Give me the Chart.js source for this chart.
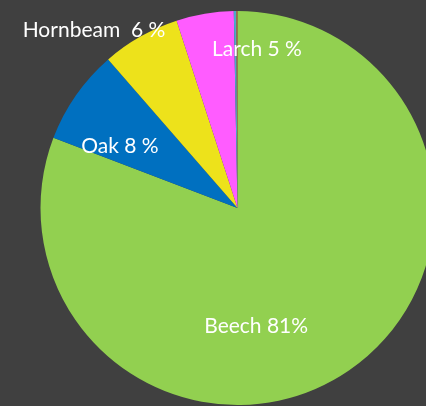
<!DOCTYPE html>
<html>
  <head>
    <title>Tree species share</title>
    <script src="https://cdn.jsdelivr.net/npm/chart.js"></script>
    <style>
      html, body {
        margin: 0;
        padding: 0;
        background: #404040;
        overflow: hidden;
      }
      .chart-box {
        position: relative;
        width: 460px;
        height: 406px;
      }
    </style>
  </head>
  <body>
    <div class="chart-box">
      <canvas id="pieChart"></canvas>
    </div>

    <script>
      // Species and their share of the stand (percent)
      const species = ['Beech', 'Oak', 'Hornbeam', 'Larch', 'Other A', 'Other B'];
      const shares = [80.8, 7.8, 6.4, 4.7, 0.2, 0.1];
      const labelTexts = ['Beech 81%', 'Oak 8 %', 'Hornbeam  6 %', 'Larch 5 %', '', ''];
      const sliceColors = ['#92d050', '#0070c0', '#ede21b', '#ff5cff', '#4bacc6', '#c0704d'];

      // Where each label sits: angle (deg, clockwise from top) and radius as fraction of the pie
      const labelSpots = [
        { angle: 171, r: 0.606 },
        { angle: 297.8, r: 0.675 },
        { angle: 321.1, r: 1.16 },
        { angle: 7, r: 0.81 },
        null,
        null
      ];

      const sliceLabels = {
        id: 'sliceLabels',
        afterDatasetsDraw(chart) {
          const ctx = chart.ctx;
          const arcs = chart.getDatasetMeta(0).data;
          if (!arcs.length) return;
          const cx = arcs[0].x;
          const cy = arcs[0].y;
          const radius = arcs[0].outerRadius;
          ctx.save();
          ctx.fillStyle = '#ffffff';
          ctx.font = '21px Lato, "Open Sans", sans-serif';
          ctx.textAlign = 'center';
          ctx.textBaseline = 'middle';
          labelTexts.forEach((text, i) => {
            const spot = labelSpots[i];
            if (!text || !spot) return;
            const a = spot.angle * Math.PI / 180;
            const x = cx + Math.sin(a) * radius * spot.r;
            const y = cy - Math.cos(a) * radius * spot.r;
            ctx.fillText(text, x, y);
          });
          ctx.restore();
        }
      };

      new Chart(document.getElementById('pieChart'), {
        type: 'pie',
        data: {
          labels: species,
          datasets: [{
            data: shares,
            backgroundColor: sliceColors,
            borderWidth: 0
          }]
        },
        options: {
          responsive: true,
          maintainAspectRatio: false,
          animation: false,
          layout: {
            padding: { left: 40.5, top: 11, right: 25.5, bottom: 1 }
          },
          plugins: {
            legend: { display: false },
            tooltip: { enabled: false }
          }
        },
        plugins: [sliceLabels]
      });
    </script>
  </body>
</html>
